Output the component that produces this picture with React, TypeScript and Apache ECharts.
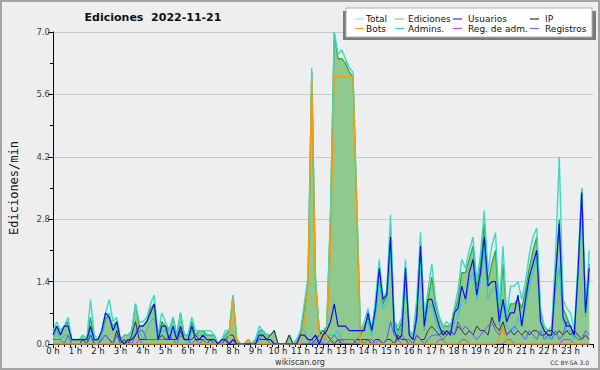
import React, { useEffect, useRef } from "react";
import * as echarts from "echarts";

// 10-minute buckets (144 per day), values in edits/min
const total = [
  0.3,0.5,0.3,0.4,0.6,0.1, 0.1,0.1,0.2,0.1,1.0,0.2, 0.1,0.3,0.7,1.0,0.5,0.6, 0.1,0.2,0.2,0.3,0.9,0.5,
  0.5,0.6,0.9,1.1,0.2,0.7, 0.5,0.3,0.6,0.2,0.7,0.2, 0.2,0.6,0.3,0.3,0.3,0.3, 0.3,0.2,0,0.1,0.3,0.3,
  1.1,0.1,0,0,0.1,0, 0.1,0.4,0.3,0.2,0.2,0.3, 0,0,0,0.2,0,0.1, 0.3,0.9,1.5,6.2,1.5,0.3,
  0.3,0.4,3.0,7.0,6.5,6.6, 6.4,6.2,6.1,3.2,0.3,0.5, 0.8,0.3,1.0,1.9,1.0,1.2, 2.9,0.5,0.4,0.6,1.9,0.3,
  0.2,1.0,2.5,0.6,1.2,1.8, 1.0,0.6,0.4,0.5,0.4,0.8, 1.2,1.9,1.7,2.1,2.4,1.4, 2.0,3.0,1.6,2.2,2.5,0.8,
  2.2,0.6,1.3,1.3,1.4,1.0, 1.4,2.0,2.4,2.6,0.8,0.4, 0.3,0.4,2.0,4.2,1.0,0.8, 0.7,0.3,1.8,3.5,0.8,2.1,
];
const ediciones = [
  0.3,0.4,0.3,0.4,0.5,0.1, 0.1,0.1,0.2,0.1,0.6,0.1, 0.1,0.2,0.6,0.6,0.4,0.5, 0.1,0.2,0.2,0.3,0.9,0.4,
  0.4,0.5,0.8,0.9,0.2,0.5, 0.4,0.3,0.6,0.2,0.7,0.2, 0.2,0.5,0.2,0.3,0.3,0.2, 0.2,0.2,0,0.1,0.2,0.3,
  1.1,0.1,0,0,0.1,0, 0.1,0.3,0.3,0.2,0.2,0.3, 0,0,0,0.2,0,0.1, 0.2,0.8,1.4,6.1,1.4,0.3,
  0.2,0.4,2.9,7.0,6.4,6.4, 6.3,6.1,6.0,3.1,0.2,0.4, 0.6,0.3,0.9,1.7,0.9,1.1, 2.6,0.5,0.3,0.5,1.7,0.3,
  0.2,0.8,2.3,0.6,1.0,1.5, 0.9,0.6,0.4,0.4,0.4,0.7, 1.0,1.6,1.6,1.9,2.2,1.3, 1.8,2.7,1.4,1.8,2.1,0.7,
  1.8,0.6,0.9,0.9,1.0,0.8, 1.2,1.7,2.1,2.4,0.7,0.4, 0.3,0.3,1.6,2.8,0.8,0.6, 0.4,0.2,1.7,3.5,0.8,1.8,
];
const usuarios = [
  0.2,0.4,0.2,0.4,0.4,0.1, 0.1,0.1,0.1,0.1,0.4,0.1, 0.1,0.3,0.7,0.6,0.3,0.5, 0.1,0,0.1,0.1,0.2,0.4,
  0.4,0.5,0.7,0.9,0.1,0.4, 0.4,0.1,0.4,0.1,0.4,0.1, 0.1,0.4,0.1,0.1,0.2,0.1, 0.1,0.1,0,0.1,0.1,0,
  0.1,0,0,0,0,0, 0,0.2,0.2,0.1,0.1,0, 0,0,0,0,0,0, 0.2,0.2,0.1,0.1,0.2,0,
  0.2,0.3,0.5,0.9,0.4,0.4, 0.4,0.3,0.3,0.3,0.3,0.3, 0.7,0.3,0.8,1.7,1.0,1.1, 2.4,0.3,0.1,0.2,1.7,0.2,
  0.1,0.6,2.2,0.4,1.0,1.0, 0.7,0.4,0.2,0.3,0.2,0.7, 0.8,1.3,1.0,1.6,1.9,1.1, 1.6,2.4,1.3,1.4,1.4,0.5,
  1.0,0.5,0.7,0.7,1.1,0.4, 1.0,1.5,1.8,2.1,0.5,0.3, 0.2,0.2,1.5,2.7,0.6,0.4, 0.4,0.2,1.6,3.4,0.7,1.7,
];
const ip = [
  0,0,0,0,0,0, 0,0,0.1,0,0.2,0, 0,0.1,0.2,0.1,0,0.3, 0,0.1,0,0.2,0.5,0.1,
  0.1,0.1,0.1,0.1,0.1,0.2, 0.1,0.1,0.1,0.1,0.3,0.1, 0.1,0.1,0.2,0.1,0.1,0, 0.1,0,0,0,0.1,0.2,
  0.2,0,0,0,0,0, 0,0.1,0.1,0.1,0.2,0.3, 0,0,0,0.2,0,0, 0,0,0,0,0.1,0.2,
  0.3,0.2,0.1,0,0.1,0, 0,0,0,0.1,0.1,0.1, 0.1,0,0.1,0.1,0,0.1, 0.1,0,0.2,0.1,0.1,0,
  0,0.2,0.1,0.1,0.3,0.4, 0.3,0.2,0.3,0.2,0.3,0.2, 0.4,0.3,0.2,0.3,0.2,0.4, 0.3,0.3,0.2,0.6,0.4,0.3,
  0.5,0.2,0.3,0.2,0.3,0.2, 0.3,0.2,0.3,0.3,0.2,0.2, 0.3,0.3,0.2,0.3,0.2,0.3, 0.2,0.3,0.2,0.1,0.2,0.1,
];
const bots = [
  0,0,0,0,0,0, 0,0,0,0,0,0, 0,0,0,0,0,0, 0,0,0,0,0,0,
  0,0,0,0,0,0, 0,0,0,0,0,0, 0,0,0,0,0,0, 0,0,0,0,0,0.2,
  1.0,0,0,0,0.1,0, 0,0,0,0,0,0, 0,0,0,0,0,0, 0,0.5,1.3,6.0,1.3,0.2,
  0.1,0.1,2.0,6.0,6.0,6.0, 6.0,6.0,6.0,3.0,0,0, 0,0,0,0,0,0, 0,0,0,0,0,0,
  0,0,0,0,0,0, 0,0,0,0,0,0, 0,0,0,0,0,0, 0,0,0,0,0,0.1,
  0.4,0,0,0,0,0, 0,0,0,0,0,0, 0,0,0,0,0,0, 0,0,0,0,0,0,
];
const admins = [
  0.1,0.3,0.1,0.2,0.2,0, 0,0,0,0,0.3,0, 0,0.2,0.5,0.7,0.3,0.4, 0,0,0,0.1,0.3,0.3,
  0.1,0.3,0.5,0.6,0.1,0.3, 0.3,0.1,0.3,0.1,0.3,0.1, 0,0.3,0.2,0.2,0.2,0.2, 0.2,0.1,0,0,0.2,0.1,
  0,0,0,0,0,0, 0,0.3,0.2,0.1,0.1,0, 0,0,0,0,0,0, 0.3,0.3,0.1,0,0,0,
  0,0.2,0.2,0.2,0.3,0.1, 0.1,0.1,0.1,0.1,0.2,0.4, 0.5,0.2,0.6,1.4,0.8,0.9, 2.1,0.5,0.2,0.4,1.5,0.2,
  0.1,0.5,1.9,0.3,0.8,0.9, 0.5,0.3,0.2,0.2,0.2,0.5, 0.6,1.0,0.9,1.4,1.6,1.0, 1.4,2.1,1.0,1.2,1.3,0.4,
  0.9,0.4,0.3,0.3,0.6,0.4, 0.8,1.3,1.6,1.9,0.5,0.2, 0.1,0.2,1.2,1.7,0.5,0.3, 0.3,0.1,1.5,3.2,0.6,1.5,
];
const regAdm = [
  0,0,0,0,0,0, 0,0,0,0,0,0, 0,0,0,0,0,0, 0,0,0,0,0,0.1,
  0,0,0,0,0,0, 0,0,0,0,0,0, 0,0,0,0,0,0, 0,0,0,0,0,0,
  0,0,0,0,0,0, 0,0,0,0,0,0, 0,0,0,0,0,0, 0,0,0,0,0,0,
  0,0,0,0,0,0.1, 0,0,0,0,0,0, 0,0,0,0,0,0, 0,0,0.1,0,0,0,
  0,0,0,0,0,0, 0,0.1,0.1,0,0,0, 0,0.1,0.1,0,0,0, 0,0,0,0,0,0,
  0,0.1,0.1,0,0,0, 0,0,0,0,0,0, 0,0,0,0,0.1,0.1, 0.1,0,0,0,0,0,
];
const registros = [
  0.1,0.1,0.1,0,0.2,0, 0,0,0,0,0.2,0, 0,0.1,0.2,0.1,0,0.2, 0,0,0.1,0,0.2,0.3,
  0.3,0.1,0.1,0.1,0.1,0.1, 0.1,0.2,0.1,0,0.2,0.1, 0.1,0,0.1,0,0.1,0, 0,0,0,0,0.1,0,
  0.1,0,0,0,0,0, 0,0.1,0.2,0.1,0,0, 0,0,0,0,0,0, 0,0,0,0.1,0,0.1,
  0,0,0.1,0.2,0.1,0.1, 0.1,0.1,0.1,0,0.1,0, 0.1,0.1,0,0.1,0,0.1, 0.5,0.2,0.1,0.2,0.1,0.1,
  0,0.2,0.1,0,0.1,0.2, 0.2,0.2,0.1,0.2,0.3,0.2, 0.5,0.3,0.4,0.3,0.2,0.1, 0.2,0.3,0.4,0.5,0.3,0.2,
  0.4,0.2,0.3,0.4,0.3,0.2, 0.1,0.3,0.2,0.1,0.3,0.1, 0.2,0.1,0.3,0.1,0.2,0.5, 0.4,0.2,0.1,0.1,0.3,0.2,
];
const hourLabels = Array.from({ length: 24 }, (_, h) => `${h} h`);
const yTicks = [0, 1.4, 2.8, 4.2, 5.6, 7.0];

const legendItems = [
  { name: "Total", color: "#a6e8e6" },
  { name: "Ediciones", color: "#7fcc7f" },
  { name: "Usuarios", color: "#3030f0" },
  { name: "IP", color: "#333333" },
  { name: "Bots", color: "#ff9a1a" },
  { name: "Admins.", color: "#2ccbe0" },
  { name: "Reg. de adm.", color: "#d040f0" },
  { name: "Registros", color: "#6a6aff" },
];

const toPts = (arr: number[]) => arr.map((v, i) => [i / 6, v]);

export default function App() {
  const ref = useRef<HTMLDivElement>(null);
  useEffect(() => {
    document.body.style.margin = "0";
    const chart = echarts.init(ref.current!, null, { renderer: "svg" });
    const FONT = "DejaVu Sans";
    const lineSeries = (name: string, data: number[], color: string, width: number, z: number) => ({
      name,
      type: "line",
      data: toPts(data),
      showSymbol: false,
      symbol: "none",
      z,
      silent: true,
      lineStyle: { color, width },
    });
    const colX = [355, 395, 453, 530];
    const textX = [366, 408, 468, 545];
    const rowY = [19, 28.5];
    const legendGraphics: any[] = [];
    legendItems.forEach((it, k) => {
      const r = k < 4 ? 0 : 1;
      const c = k % 4;
      legendGraphics.push({
        type: "line",
        shape: { x1: colX[c], y1: rowY[r], x2: colX[c] + 9, y2: rowY[r] },
        style: { stroke: it.color, lineWidth: 1.2 },
        z: 102,
      });
      legendGraphics.push({
        type: "text",
        x: textX[c],
        y: rowY[r],
        style: {
          text: it.name,
          fill: "#111",
          font: `9px "${FONT}"`,
          textVerticalAlign: "middle",
        },
        z: 102,
      });
    });

    chart.setOption({
      animation: false,
      backgroundColor: "#eeeeee",
      grid: {
        left: 45,
        top: 32,
        right: 7,
        bottom: 26,
        show: true,
        backgroundColor: "#edeef0",
        borderWidth: 0,
      },
      xAxis: {
        type: "value",
        min: 0,
        max: 24,
        interval: 1,
        axisLine: { show: true, onZero: false, lineStyle: { color: "#000", width: 1 } },
        axisTick: { show: true, length: 4, lineStyle: { color: "#000" } },
        minorTick: { show: true, splitNumber: 4, length: 3, lineStyle: { color: "#000" } },
        splitLine: { show: false },
        axisLabel: {
          formatter: (v: number) => (v < 24 ? hourLabels[v] : ""),
          fontSize: 8.5,
          fontFamily: FONT,
          color: "#222",
          margin: 2,
        },
      },
      yAxis: {
        type: "value",
        min: 0,
        max: 7,
        interval: 1.4,
        name: "Ediciones/min",
        nameLocation: "middle",
        nameRotate: 90,
        nameGap: 33,
        nameTextStyle: { fontFamily: "DejaVu Sans Mono", fontSize: 12, color: "#111" },
        axisLine: { show: true, lineStyle: { color: "#000", width: 1 } },
        axisTick: { show: true, length: 5, lineStyle: { color: "#000" } },
        minorTick: { show: true, splitNumber: 2, length: 3, lineStyle: { color: "#000" } },
        splitLine: { show: true, lineStyle: { color: "#c9c9cb", width: 1 } },
        axisLabel: {
          formatter: (v: number) => {
            const t = yTicks.find((y) => Math.abs(y - v) < 1e-6);
            return (t ?? v).toFixed(1);
          },
          fontSize: 8.5,
          fontFamily: FONT,
          color: "#444",
          margin: 3,
        },
      },
      series: [
        {
          name: "Total",
          type: "line",
          data: toPts(total),
          showSymbol: false,
          symbol: "none",
          z: 1,
          silent: true,
          lineStyle: { width: 0, color: "#3fd8c8" },
          areaStyle: { color: "#dcefec", opacity: 1 },
        },
        {
          name: "Ediciones",
          type: "line",
          data: toPts(ediciones),
          showSymbol: false,
          symbol: "none",
          z: 2,
          silent: true,
          lineStyle: { width: 1.3, color: "#34a834" },
          areaStyle: { color: "#8fc98f", opacity: 1 },
        },
        lineSeries("Total ", total, "#3fd8c8", 1.4, 3),
        lineSeries("Admins.", admins, "#22c4e4", 1, 4),
        lineSeries("IP", ip, "#333333", 1, 5),
        lineSeries("Registros", registros, "#5a5aff", 1, 6),
        lineSeries("Reg. de adm.", regAdm, "#cc33ee", 1, 7),
        lineSeries("Bots", bots, "#ff9900", 1.3, 8),
        lineSeries("Usuarios", usuarios, "#1010e6", 1.2, 9),
      ],
      graphic: [
        {
          type: "rect",
          shape: { x: 1, y: 1, width: 598, height: 368 },
          style: { fill: "none", stroke: "#a4a4a4", lineWidth: 2 },
          z: 100,
        },
        {
          type: "text",
          x: 153,
          y: 17,
          style: {
            text: "Ediciones  2022-11-21",
            fill: "#111",
            font: `bold 11px "${FONT}"`,
            textAlign: "center",
            textVerticalAlign: "middle",
          },
          z: 100,
        },
        {
          type: "rect",
          shape: { x: 343, y: 11, width: 253, height: 29 },
          style: { fill: "#7a7a7a" },
          z: 100,
        },
        {
          type: "rect",
          shape: { x: 346, y: 8, width: 246, height: 29 },
          style: { fill: "#ffffff", stroke: "#b0b0b0", lineWidth: 1 },
          z: 101,
        },
        ...legendGraphics,
        {
          type: "text",
          x: 300,
          y: 362,
          style: {
            text: "wikiscan.org",
            fill: "#333",
            font: `8px "${FONT}"`,
            textAlign: "center",
            textVerticalAlign: "middle",
          },
          z: 100,
        },
        {
          type: "text",
          x: 589,
          y: 362,
          style: {
            text: "CC BY-SA 3.0",
            fill: "#333",
            font: `6px "${FONT}"`,
            textAlign: "right",
            textVerticalAlign: "middle",
          },
          z: 100,
        },
      ],
    });
    return () => chart.dispose();
  }, []);
  return <div ref={ref} style={{ width: 600, height: 370 }} />;
}
